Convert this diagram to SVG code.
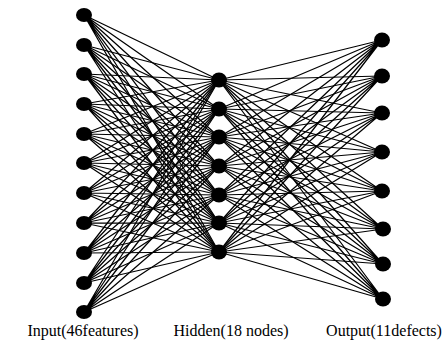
<svg xmlns="http://www.w3.org/2000/svg" width="445" height="348" viewBox="0 0 445 348">
  <style>
    .edge { fill: none; stroke: #000; stroke-width: 1.25; }
    .node { fill: #000; }
    .label { font-family: "Liberation Serif", "Times New Roman", serif; font-size: 16px; fill: #000; text-anchor: middle; }
  </style>
  <rect width="445" height="348" fill="#fff"/>

  <!-- fully connected weights: input to hidden, hidden to output -->
  <g id="connectors">
    <path class="edge" d="M84 15L219 80M84 15L219 109M84 15L219 137M84 15L219 166M84 15L219 195M84 15L219 223M84 15L219 252"/>
    <path class="edge" d="M84 45L219 80M84 45L219 109M84 45L219 137M84 45L219 166M84 45L219 195M84 45L219 223M84 45L219 252"/>
    <path class="edge" d="M84 74L219 80M84 74L219 109M84 74L219 137M84 74L219 166M84 74L219 195M84 74L219 223M84 74L219 252"/>
    <path class="edge" d="M84 104L219 80M84 104L219 109M84 104L219 137M84 104L219 166M84 104L219 195M84 104L219 223M84 104L219 252"/>
    <path class="edge" d="M84 134L219 80M84 134L219 109M84 134L219 137M84 134L219 166M84 134L219 195M84 134L219 223M84 134L219 252"/>
    <path class="edge" d="M84 163L219 80M84 163L219 109M84 163L219 137M84 163L219 166M84 163L219 195M84 163L219 223M84 163L219 252"/>
    <path class="edge" d="M84 193L219 80M84 193L219 109M84 193L219 137M84 193L219 166M84 193L219 195M84 193L219 223M84 193L219 252"/>
    <path class="edge" d="M84 223L219 80M84 223L219 109M84 223L219 137M84 223L219 166M84 223L219 195M84 223L219 223M84 223L219 252"/>
    <path class="edge" d="M84 253L219 80M84 253L219 109M84 253L219 137M84 253L219 166M84 253L219 195M84 253L219 223M84 253L219 252"/>
    <path class="edge" d="M84 283L219 80M84 283L219 109M84 283L219 137M84 283L219 166M84 283L219 195M84 283L219 223M84 283L219 252"/>
    <path class="edge" d="M84 312L219 80M84 312L219 109M84 312L219 137M84 312L219 166M84 312L219 195M84 312L219 223M84 312L219 252"/>

    <path class="edge" d="M382 40L219 80M382 40L219 109M382 40L219 137M382 40L219 166M382 40L219 195M382 40L219 223M382 40L219 252"/>
    <path class="edge" d="M382 76L219 80M382 76L219 109M382 76L219 137M382 76L219 166M382 76L219 195M382 76L219 223M382 76L219 252"/>
    <path class="edge" d="M382 113L219 80M382 113L219 109M382 113L219 137M382 113L219 166M382 113L219 195M382 113L219 223M382 113L219 252"/>
    <path class="edge" d="M382 152L219 80M382 152L219 109M382 152L219 137M382 152L219 166M382 152L219 195M382 152L219 223M382 152L219 252"/>
    <path class="edge" d="M382 191L219 80M382 191L219 109M382 191L219 137M382 191L219 166M382 191L219 195M382 191L219 223M382 191L219 252"/>
    <path class="edge" d="M383 229L219 80M383 229L219 109M383 229L219 137M383 229L219 166M383 229L219 195M383 229L219 223M383 229L219 252"/>
    <path class="edge" d="M383 264L219 80M383 264L219 109M383 264L219 137M383 264L219 166M383 264L219 195M383 264L219 223M383 264L219 252"/>
    <path class="edge" d="M383 299L219 80M383 299L219 109M383 299L219 137M383 299L219 166M383 299L219 195M383 299L219 223M383 299L219 252"/>
  </g>

  <!-- input layer -->
  <g id="in1"><ellipse class="node" cx="84" cy="15" rx="8" ry="7"/></g>
  <g id="in2"><ellipse class="node" cx="84" cy="45" rx="8" ry="7"/></g>
  <g id="in3"><ellipse class="node" cx="84" cy="74" rx="8" ry="7"/></g>
  <g id="in4"><ellipse class="node" cx="84" cy="104" rx="8" ry="7"/></g>
  <g id="in5"><ellipse class="node" cx="84" cy="134" rx="8" ry="7"/></g>
  <g id="in6"><ellipse class="node" cx="84" cy="163" rx="8" ry="7"/></g>
  <g id="in7"><ellipse class="node" cx="84" cy="193" rx="8" ry="7"/></g>
  <g id="in8"><ellipse class="node" cx="84" cy="223" rx="8" ry="7"/></g>
  <g id="in9"><ellipse class="node" cx="84" cy="253" rx="8" ry="7"/></g>
  <g id="in10"><ellipse class="node" cx="84" cy="283" rx="8" ry="7"/></g>
  <g id="in11"><ellipse class="node" cx="84" cy="312" rx="8" ry="7"/></g>

  <!-- hidden layer -->
  <g id="hid1"><ellipse class="node" cx="219" cy="80" rx="8" ry="7.5"/></g>
  <g id="hid2"><ellipse class="node" cx="219" cy="109" rx="8" ry="7.5"/></g>
  <g id="hid3"><ellipse class="node" cx="219" cy="137" rx="8" ry="7.5"/></g>
  <g id="hid4"><ellipse class="node" cx="219" cy="166" rx="8" ry="7.5"/></g>
  <g id="hid5"><ellipse class="node" cx="219" cy="195" rx="8" ry="7.5"/></g>
  <g id="hid6"><ellipse class="node" cx="219" cy="223" rx="8" ry="7.5"/></g>
  <g id="hid7"><ellipse class="node" cx="219" cy="252" rx="8" ry="7.5"/></g>

  <!-- output layer -->
  <g id="out1"><ellipse class="node" cx="382" cy="40" rx="8" ry="7.5"/></g>
  <g id="out2"><ellipse class="node" cx="382" cy="76" rx="8" ry="7.5"/></g>
  <g id="out3"><ellipse class="node" cx="382" cy="113" rx="8" ry="7.5"/></g>
  <g id="out4"><ellipse class="node" cx="382" cy="152" rx="8" ry="7.5"/></g>
  <g id="out5"><ellipse class="node" cx="382" cy="191" rx="8" ry="7.5"/></g>
  <g id="out6"><ellipse class="node" cx="383" cy="229" rx="8" ry="7.5"/></g>
  <g id="out7"><ellipse class="node" cx="383" cy="264" rx="8" ry="7.5"/></g>
  <g id="out8"><ellipse class="node" cx="383" cy="299" rx="8" ry="7.5"/></g>

  <!-- layer captions -->
  <g id="captions">
    <text class="label" x="83" y="336">Input(46features)</text>
    <text class="label" x="231" y="336">Hidden(18 nodes)</text>
    <text class="label" x="384" y="336">Output(11defects)</text>
  </g>
</svg>
